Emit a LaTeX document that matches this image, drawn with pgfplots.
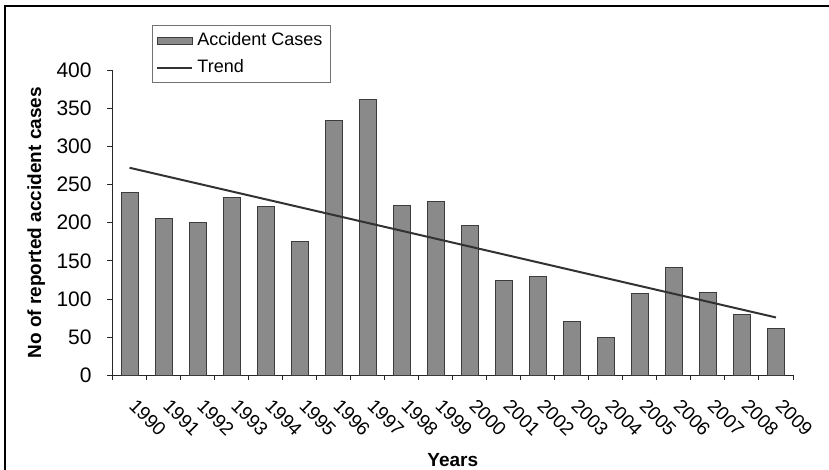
\documentclass[border=0pt]{standalone}
\usepackage{fontspec}
\setmainfont{Liberation Sans}
\usepackage{pgfplots}
\pgfplotsset{compat=1.18}
\usepackage{pgfplotstable}
\definecolor{barfill}{RGB}{138,138,138}
\definecolor{bardraw}{RGB}{60,60,60}
\definecolor{trendc}{RGB}{50,50,50}
\pgfplotstableread{
idx year cases
0 1990 240
1 1991 205
2 1992 200
3 1993 233
4 1994 221
5 1995 176
6 1996 334
7 1997 361
8 1998 222
9 1999 228
10 2000 197
11 2001 124
12 2002 130
13 2003 71
14 2004 50
15 2005 107
16 2006 142
17 2007 109
18 2008 80
19 2009 62
}\datatable
\pgfplotstableread{
idx trend
0 272
19 76
}\trendtable
\begin{document}
\begin{tikzpicture}
\path[use as bounding box] (0,0) rectangle (414.5pt,235pt);
\draw[line width=1.2pt] (2.5pt,-2pt) -- (2.5pt,232pt) -- (417pt,232pt);
\begin{axis}[
  at={(56.25pt,47.25pt)}, anchor=south west,
  scale only axis, width=340.25pt, height=152.75pt,
  xmin=-0.5, xmax=19.5, ymin=0, ymax=400,
  axis x line*=bottom, axis y line*=left,
  axis line style={-, line width=0.6pt, draw=black!85},
  ytick={0,50,...,400},
  xtick={0,...,19},
  xticklabels={1990,1991,1992,1993,1994,1995,1996,1997,1998,1999,2000,2001,2002,2003,2004,2005,2006,2007,2008,2009},
  minor xtick={-0.5,0.5,...,19.5},
  tick align=outside,
  major tick length=2.5pt, minor tick length=2.5pt,
  tick style={black!85, line width=0.5pt},
  major x tick style={draw=none},
  /pgf/number format/assume math mode=true,
  xticklabel style={font=\fontsize{9.5}{11}\selectfont},
  yticklabel style={font=\fontsize{10.5}{12}\selectfont},
  yticklabel style={inner sep=0pt, anchor=east},
  yticklabel shift=7.75pt,
  xticklabel style={inner sep=0pt, anchor=north west, xshift=4pt, yshift=-8.5pt, rotate=-45},
  xlabel={\textbf{Years}},
  ylabel={\textbf{No of reported accident cases}},
  label style={font=\fontsize{9.5}{11}\selectfont},
  xlabel style={at={(axis description cs:0.5,-0.2995)}, anchor=base},
  ylabel style={at={(axis description cs:-0.112,0.5)}, anchor=center},
  legend style={at={(rel axis cs:0.058,1.147)}, anchor=north west, draw=black!55, line width=0.5pt,
    font=\fontsize{9}{10}\selectfont, inner xsep=2pt, inner ysep=1.5pt, row sep=1.5pt},
  legend cell align=left,
]
\addplot[ybar, bar width=8.5pt, fill=barfill, draw=bardraw, line width=0.5pt,
  legend image code/.code={\draw[fill=barfill, draw=bardraw, line width=0.4pt] (0pt,-1.75pt) rectangle (17.5pt,1.75pt);}]
  table[x=idx, y=cases] {\datatable};
\addlegendentry{Accident Cases}
\addplot[sharp plot, no marks, color=trendc, line width=1pt,
  legend image code/.code={\draw[color=trendc, line width=1pt] (0pt,0pt) -- (17.5pt,0pt);}]
  table[x=idx, y=trend] {\trendtable};
\addlegendentry{Trend}
\end{axis}
\end{tikzpicture}
\end{document}
